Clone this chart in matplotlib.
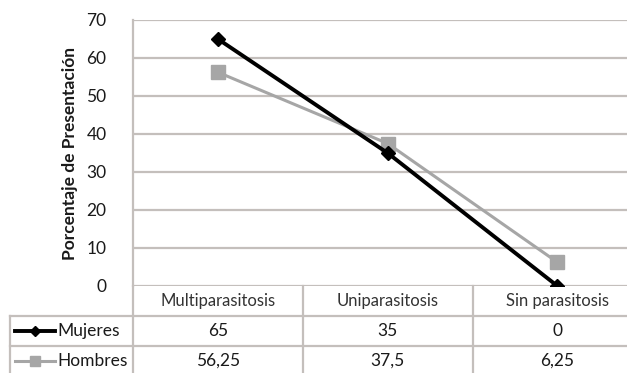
import matplotlib.pyplot as plt
from matplotlib.lines import Line2D
import matplotlib.transforms as mtransforms

categories = ['Multiparasitosis', 'Uniparasitosis', 'Sin parasitosis']
mujeres = [65, 35, 0]
hombres = [56.25, 37.5, 6.25]
mujeres_txt = ['65', '35', '0']
hombres_txt = ['56,25', '37,5', '6,25']
yticks = [0, 10, 20, 30, 40, 50, 60, 70]

plt.rcParams['font.family'] = ['Lato', 'DejaVu Sans']

grid_c = '#c4bfbc'
black = '#000000'
gray = '#a6a6a6'
txt_c = '#1a1a1a'

fig = plt.figure(figsize=(6.27, 3.73), dpi=100)
W, H = 627.0, 373.0
left, right, top, bottom = 133, 627, 20, 286
ax = fig.add_axes([left / W, 1 - bottom / H, (right - left) / W, (bottom - top) / H])

x = list(range(len(categories)))
ax.plot(x, hombres, color=gray, lw=2.2, marker='s', ms=10, zorder=3)
ax.plot(x, mujeres, color=black, lw=2.8, marker='D', ms=7, zorder=4)

col_w = (right - left) / 2.91
ax.set_xlim(-0.5, 2.41)
ax.set_ylim(0, 70)
ax.set_yticks(yticks)
ax.set_yticklabels([str(v) for v in yticks], fontsize=12.5, color=txt_c)
ax.tick_params(axis='y', length=0, pad=19)
ax.set_xticks([])
for v in yticks:
    ax.axhline(v, color=grid_c, lw=1.6, zorder=1)
for s in ['top', 'right', 'bottom']:
    ax.spines[s].set_visible(False)
ax.spines['left'].set_color(grid_c)
ax.spines['left'].set_linewidth(1.6)
ax.set_ylabel('Porcentaje de Presentación', fontsize=12.5, fontweight='bold', labelpad=6, color=txt_c)

# data table under the chart
tr = mtransforms.blended_transform_factory(ax.transData, ax.transAxes)
row_h = 30.0 / (bottom - top)
x_far = -0.5 - (left - 10) / col_w
y_bot = -(373 - top) / (bottom - top) + 1 - 1e-3

def hline(y, x0, x1):
    ax.add_line(Line2D([x0, x1], [y, y], transform=tr, color=grid_c, lw=1.6, clip_on=False))

def vline(xx, y0, y1):
    ax.add_line(Line2D([xx, xx], [y0, y1], transform=tr, color=grid_c, lw=1.6, clip_on=False))

hline(-row_h, x_far, 2.41)
hline(-2 * row_h, x_far, 2.41)
vline(x_far, -row_h, y_bot)
vline(-0.5, 0, y_bot)
vline(0.5, 0, y_bot)
vline(1.5, 0, y_bot)

for i, c in enumerate(categories):
    ax.text(i, -0.5 * row_h, c, transform=tr, ha='center', va='center', fontsize=12, color='#333333')
    ax.text(i, -1.5 * row_h, mujeres_txt[i], transform=tr, ha='center', va='center', fontsize=12.5, color=txt_c)
    ax.text(i, -2.5 * row_h, hombres_txt[i], transform=tr, ha='center', va='center', fontsize=12.5, color=txt_c)

# legend keys
lx0 = x_far + 5 / col_w
lx1 = x_far + 45 / col_w
ax.add_line(Line2D([lx0, lx1], [-1.5 * row_h] * 2, transform=tr, color=black, lw=2.8, clip_on=False))
ax.add_line(Line2D([(lx0 + lx1) / 2], [-1.5 * row_h], transform=tr, color=black, marker='D', ms=5, clip_on=False))
ax.add_line(Line2D([lx0, lx1], [-2.5 * row_h] * 2, transform=tr, color=gray, lw=2.2, clip_on=False))
ax.add_line(Line2D([(lx0 + lx1) / 2], [-2.5 * row_h], transform=tr, color=gray, marker='s', ms=7, clip_on=False))
ax.text(x_far + 47 / col_w, -1.5 * row_h, 'Mujeres', transform=tr, ha='left', va='center', fontsize=12.5, color=txt_c)
ax.text(x_far + 47 / col_w, -2.5 * row_h, 'Hombres', transform=tr, ha='left', va='center', fontsize=12.5, color=txt_c)

fig.savefig('out.png', dpi=100)
